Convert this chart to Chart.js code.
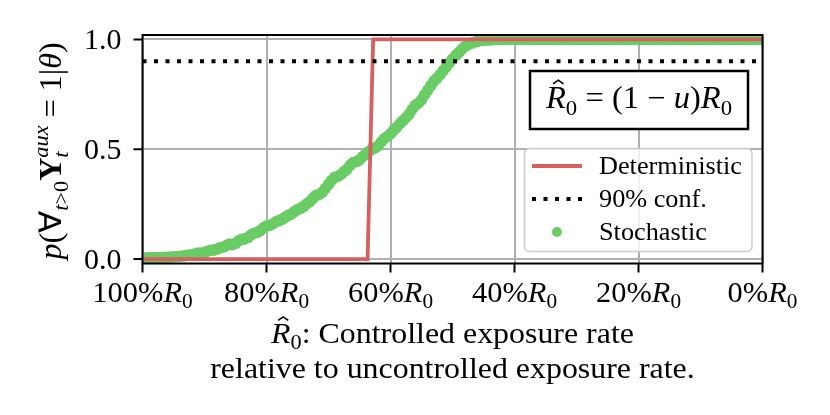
<!DOCTYPE html>
<html>
<head>
<meta charset="utf-8">
<script src="https://cdn.jsdelivr.net/npm/chart.js@4.4.1/dist/chart.umd.min.js"></script>
<style>
  html, body { margin: 0; padding: 0; background: #fff; }
  canvas { display: block; }
</style>
</head>
<body>
<canvas id="probChart" width="830" height="415"></canvas>
<script>
  // fraction of R0 kept (1.0 = uncontrolled), plotted right-to-left
  const stochR = [1.000, 0.995, 0.990, 0.985, 0.980, 0.975, 0.970, 0.965, 0.960, 0.955,
                  0.950, 0.945, 0.940, 0.935, 0.930, 0.925, 0.920, 0.915, 0.910, 0.905,
                  0.900, 0.895, 0.890, 0.885, 0.880, 0.875, 0.870, 0.865, 0.860, 0.855,
                  0.850, 0.845, 0.840, 0.835, 0.830, 0.825, 0.820, 0.815, 0.810, 0.805,
                  0.800, 0.795, 0.790, 0.785, 0.780, 0.775, 0.770, 0.765, 0.760, 0.755,
                  0.750, 0.745, 0.740, 0.735, 0.730, 0.725, 0.720, 0.715, 0.710, 0.705,
                  0.700, 0.695, 0.690, 0.685, 0.680, 0.675, 0.670, 0.665, 0.660, 0.655,
                  0.650, 0.645, 0.640, 0.635, 0.630, 0.625, 0.620, 0.615, 0.610, 0.605,
                  0.600, 0.595, 0.590, 0.585, 0.580, 0.575, 0.570, 0.565, 0.560, 0.555,
                  0.550, 0.545, 0.540, 0.535, 0.530, 0.525, 0.520, 0.515, 0.510, 0.505,
                  0.500, 0.495, 0.490, 0.485, 0.480, 0.475, 0.470, 0.465, 0.460, 0.455,
                  0.450, 0.445, 0.440, 0.435, 0.430, 0.425, 0.420, 0.415, 0.410, 0.405,
                  0.400, 0.395, 0.390, 0.385, 0.380, 0.375, 0.370, 0.365, 0.360, 0.355,
                  0.350, 0.345, 0.340, 0.335, 0.330, 0.325, 0.320, 0.315, 0.310, 0.305,
                  0.300, 0.295, 0.290, 0.285, 0.280, 0.275, 0.270, 0.265, 0.260, 0.255,
                  0.250, 0.245, 0.240, 0.235, 0.230, 0.225, 0.220, 0.215, 0.210, 0.205,
                  0.200, 0.195, 0.190, 0.185, 0.180, 0.175, 0.170, 0.165, 0.160, 0.155,
                  0.150, 0.145, 0.140, 0.135, 0.130, 0.125, 0.120, 0.115, 0.110, 0.105,
                  0.100, 0.095, 0.090, 0.085, 0.080, 0.075, 0.070, 0.065, 0.060, 0.055,
                  0.050, 0.045, 0.040, 0.035, 0.030, 0.025, 0.020, 0.015, 0.010, 0.005,
                  0.000];
  const stochP = [0.005, 0.005, 0.006, 0.006, 0.006, 0.007, 0.007, 0.008, 0.008, 0.009,
                  0.010, 0.011, 0.012, 0.014, 0.016, 0.018, 0.020, 0.024, 0.027, 0.027,
                  0.030, 0.036, 0.040, 0.041, 0.045, 0.051, 0.054, 0.062, 0.068, 0.066,
                  0.072, 0.083, 0.090, 0.092, 0.098, 0.110, 0.118, 0.122, 0.130, 0.142,
                  0.150, 0.153, 0.160, 0.170, 0.175, 0.181, 0.190, 0.199, 0.205, 0.216,
                  0.225, 0.231, 0.240, 0.252, 0.262, 0.278, 0.290, 0.294, 0.305, 0.322,
                  0.340, 0.358, 0.372, 0.376, 0.385, 0.398, 0.410, 0.428, 0.440, 0.444,
                  0.452, 0.466, 0.478, 0.490, 0.500, 0.506, 0.515, 0.533, 0.548, 0.558,
                  0.570, 0.586, 0.600, 0.616, 0.630, 0.644, 0.660, 0.682, 0.700, 0.710,
                  0.725, 0.748, 0.768, 0.790, 0.810, 0.824, 0.840, 0.858, 0.875, 0.893,
                  0.910, 0.926, 0.940, 0.955, 0.968, 0.976, 0.982, 0.987, 0.991, 0.994,
                  0.996, 0.997, 0.998, 0.999, 1.0, 1.0, 1.0, 1.0, 1.0, 1.0,
                  1.0, 1.0, 1.0, 1.0, 1.0, 1.0, 1.0, 1.0, 1.0, 1.0,
                  1.0, 1.0, 1.0, 1.0, 1.0, 1.0, 1.0, 1.0, 1.0, 1.0,
                  1.0, 1.0, 1.0, 1.0, 1.0, 1.0, 1.0, 1.0, 1.0, 1.0,
                  1.0, 1.0, 1.0, 1.0, 1.0, 1.0, 1.0, 1.0, 1.0, 1.0,
                  1.0, 1.0, 1.0, 1.0, 1.0, 1.0, 1.0, 1.0, 1.0, 1.0,
                  1.0, 1.0, 1.0, 1.0, 1.0, 1.0, 1.0, 1.0, 1.0, 1.0,
                  1.0, 1.0, 1.0, 1.0, 1.0, 1.0, 1.0, 1.0, 1.0, 1.0,
                  1.0, 1.0, 1.0, 1.0, 1.0, 1.0, 1.0, 1.0, 1.0, 1.0,
                  1.0];

  const detR = [1.0, 0.637, 0.628, 0.0];
  const detP = [0.0, 0.0, 1.0, 1.0];

  const confR = [1.0, 0.0];
  const confP = [0.9, 0.9];

  const xTickVals = [1.0, 0.8, 0.6, 0.4, 0.2, 0.0];
  const xTickLabels = ['100%', '80%', '60%', '40%', '20%', '0%'];
  const yTickVals = [0.0, 0.5, 1.0];
  const yTickLabels = ['0.0', '0.5', '1.0'];

  const RED = '#d65f5f';
  const GREEN = '#6acc64';
  const FAM = '"Liberation Serif", "Times New Roman", serif';

  function fnt(st, px) {
    const pre = st === 'i' ? 'italic ' : st === 'b' ? 'bold ' : '';
    return pre + px + 'px ' + FAM;
  }

  function segW(ctx, s, size, hs) {
    if (s.stack) return Math.max(...s.stack.map(q => segW(ctx, q, size, hs)));
    ctx.font = fnt(s.st, size * (s.sc || 1));
    return ctx.measureText(s.t).width * hs;
  }

  // draw text made of mixed pieces (italic, sub/superscripts, hat)
  function drawRich(ctx, segs, x, y, o) {
    const size = o.size, hs = o.hs || 1;
    const total = segs.reduce((a, s) => a + segW(ctx, s, size, hs), 0);
    ctx.save();
    ctx.translate(x, y);
    if (o.rot) ctx.rotate(o.rot);
    let cx = o.align === 'center' ? -total / 2 : o.align === 'right' ? -total : 0;
    ctx.fillStyle = '#000';
    ctx.strokeStyle = '#000';
    ctx.textBaseline = 'alphabetic';
    ctx.textAlign = 'left';
    segs.forEach(s => {
      const w = segW(ctx, s, size, hs);
      (s.stack || [s]).forEach(q => {
        ctx.save();
        ctx.translate(cx, (q.dy || 0) * size);
        ctx.scale(hs, 1);
        ctx.font = fnt(q.st, size * (q.sc || 1));
        ctx.fillText(q.t, 0, 0);
        if (q.hat) {
          const gw = ctx.measureText(q.t).width;
          const c = gw * 0.62;
          ctx.lineWidth = size * 0.05;
          ctx.beginPath();
          ctx.moveTo(c - size * 0.16, -size * 0.78);
          ctx.lineTo(c, -size * 0.90);
          ctx.lineTo(c + size * 0.16, -size * 0.78);
          ctx.stroke();
        }
        ctx.restore();
      });
      cx += w;
    });
    ctx.restore();
    return total;
  }

  const sub0 = { t: '0', st: '', sc: 0.7, dy: 0.22 };

  const decorations = {
    id: 'decorations',
    afterDatasetsDraw(chart) {
      const ctx = chart.ctx;
      const a = chart.chartArea;
      const xs = chart.scales.x, ys = chart.scales.y;

      // frame
      ctx.save();
      ctx.strokeStyle = '#000';
      ctx.lineWidth = 2;
      ctx.strokeRect(a.left, a.top, a.right - a.left, a.bottom - a.top);

      // tick marks
      ctx.beginPath();
      xTickVals.forEach(v => {
        const px = xs.getPixelForValue(v);
        ctx.moveTo(px, a.bottom);
        ctx.lineTo(px, a.bottom + 9);
      });
      yTickVals.forEach(v => {
        const py = ys.getPixelForValue(v);
        ctx.moveTo(a.left, py);
        ctx.lineTo(a.left - 9, py);
      });
      ctx.stroke();
      ctx.restore();

      // tick labels
      xTickVals.forEach((v, i) => {
        drawRich(ctx, [{ t: xTickLabels[i], st: '' }, { t: 'R', st: 'i' }, sub0],
          xs.getPixelForValue(v), 301.5, { size: 29, hs: 1.05, align: 'center' });
      });
      yTickVals.forEach((v, i) => {
        drawRich(ctx, [{ t: yTickLabels[i], st: '' }],
          a.left - 21, ys.getPixelForValue(v) + 9.5, { size: 28.5, hs: 1.05, align: 'right' });
      });

      // axis titles
      const midX = (a.left + a.right) / 2;
      drawRich(ctx, [{ t: 'R', st: 'i', hat: true }, sub0, { t: ': Controlled exposure rate', st: '' }],
        midX, 343, { size: 29, hs: 1.1, align: 'center' });
      drawRich(ctx, [{ t: 'relative to uncontrolled exposure rate.', st: '' }],
        midX, 378, { size: 29, hs: 1.1, align: 'center' });

      drawRich(ctx, [
        { t: 'p', st: 'i' }, { t: '(\u2200', st: '' },
        { t: 't', st: 'i', sc: 0.7, dy: 0.22 }, { t: '>0', st: '', sc: 0.7, dy: 0.22 },
        { t: 'Y', st: 'b' },
        { stack: [{ t: 'aux', st: 'i', sc: 0.7, dy: -0.42 }, { t: 't', st: 'i', sc: 0.7, dy: 0.22 }] },
        { t: ' = 1|', st: '' }, { t: '\u03b8', st: 'i' }, { t: ')', st: '' }
      ], 61, 151, { size: 30.5, hs: 1.05, align: 'center', rot: -Math.PI / 2 });

      // formula box
      ctx.save();
      ctx.fillStyle = '#fff';
      ctx.strokeStyle = '#000';
      ctx.lineWidth = 2.5;
      ctx.fillRect(530, 71, 218, 58);
      ctx.strokeRect(530, 71, 218, 58);
      ctx.restore();
      drawRich(ctx, [
        { t: 'R', st: 'i', hat: true }, sub0, { t: ' = (1 \u2212 ', st: '' },
        { t: 'u', st: 'i' }, { t: ')', st: '' }, { t: 'R', st: 'i' }, sub0
      ], 639, 108, { size: 31, hs: 1.05, align: 'center' });

      // legend
      ctx.save();
      ctx.fillStyle = 'rgba(255,255,255,0.8)';
      ctx.strokeStyle = '#cccccc';
      ctx.lineWidth = 1.5;
      ctx.beginPath();
      ctx.roundRect(524.5, 148.5, 227.5, 103, 5);
      ctx.fill();
      ctx.stroke();

      ctx.lineCap = 'butt';
      ctx.strokeStyle = RED;
      ctx.lineWidth = 3.8;
      ctx.beginPath();
      ctx.moveTo(532, 166);
      ctx.lineTo(582, 166);
      ctx.stroke();

      ctx.strokeStyle = '#000';
      ctx.lineWidth = 4;
      ctx.setLineDash([4, 7.5]);
      ctx.beginPath();
      ctx.moveTo(532, 199);
      ctx.lineTo(582, 199);
      ctx.stroke();
      ctx.setLineDash([]);

      ctx.fillStyle = GREEN;
      ctx.beginPath();
      ctx.arc(557, 232, 5, 0, Math.PI * 2);
      ctx.fill();
      ctx.restore();

      const legendText = ['Deterministic', '90% conf.', 'Stochastic'];
      legendText.forEach((t, i) => {
        drawRich(ctx, [{ t: t, st: '' }], 599, 166 + i * 33 + 8, { size: 25, hs: 1.05, align: 'left' });
      });
    }
  };

  const ctx = document.getElementById('probChart').getContext('2d');

  const probChart = new Chart(ctx, {
    type: 'scatter',
    data: {
      datasets: [
        {
          label: '90% conf.',
          data: confR.map((r, i) => ({ x: r, y: confP[i] })),
          showLine: true,
          borderColor: '#000',
          borderWidth: 4,
          borderDash: [4, 7.5],
          borderCapStyle: 'butt',
          pointRadius: 0,
          order: 0
        },
        {
          label: 'Deterministic',
          data: detR.map((r, i) => ({ x: r, y: detP[i] })),
          showLine: true,
          borderColor: RED,
          borderWidth: 3.8,
          pointRadius: 0,
          tension: 0,
          order: 1
        },
        {
          label: 'Stochastic',
          data: stochR.map((r, i) => ({ x: r, y: stochP[i] })),
          backgroundColor: GREEN,
          borderColor: GREEN,
          borderWidth: 0,
          pointRadius: 5.8,
          pointHoverRadius: 5.8,
          order: 2
        }
      ]
    },
    options: {
      responsive: false,
      animation: false,
      events: [],
      layout: { padding: { left: 142.5, right: 67.5, top: 35, bottom: 151.5 } },
      plugins: {
        legend: { display: false },
        tooltip: { enabled: false }
      },
      scales: {
        x: {
          type: 'linear',
          min: 0, max: 1,
          reverse: true,
          border: { display: false },
          grid: { color: '#b0b0b0', lineWidth: 2, drawTicks: false },
          ticks: { display: false },
          afterBuildTicks: s => { s.ticks = xTickVals.map(v => ({ value: v })); },
          afterFit: s => { s.height = 0; }
        },
        y: {
          type: 'linear',
          min: -0.02, max: 1.02,
          border: { display: false },
          grid: { color: '#b0b0b0', lineWidth: 2, drawTicks: false },
          ticks: { display: false },
          afterBuildTicks: s => { s.ticks = yTickVals.map(v => ({ value: v })); },
          afterFit: s => { s.width = 0; }
        }
      }
    },
    plugins: [decorations]
  });
</script>
</body>
</html>
